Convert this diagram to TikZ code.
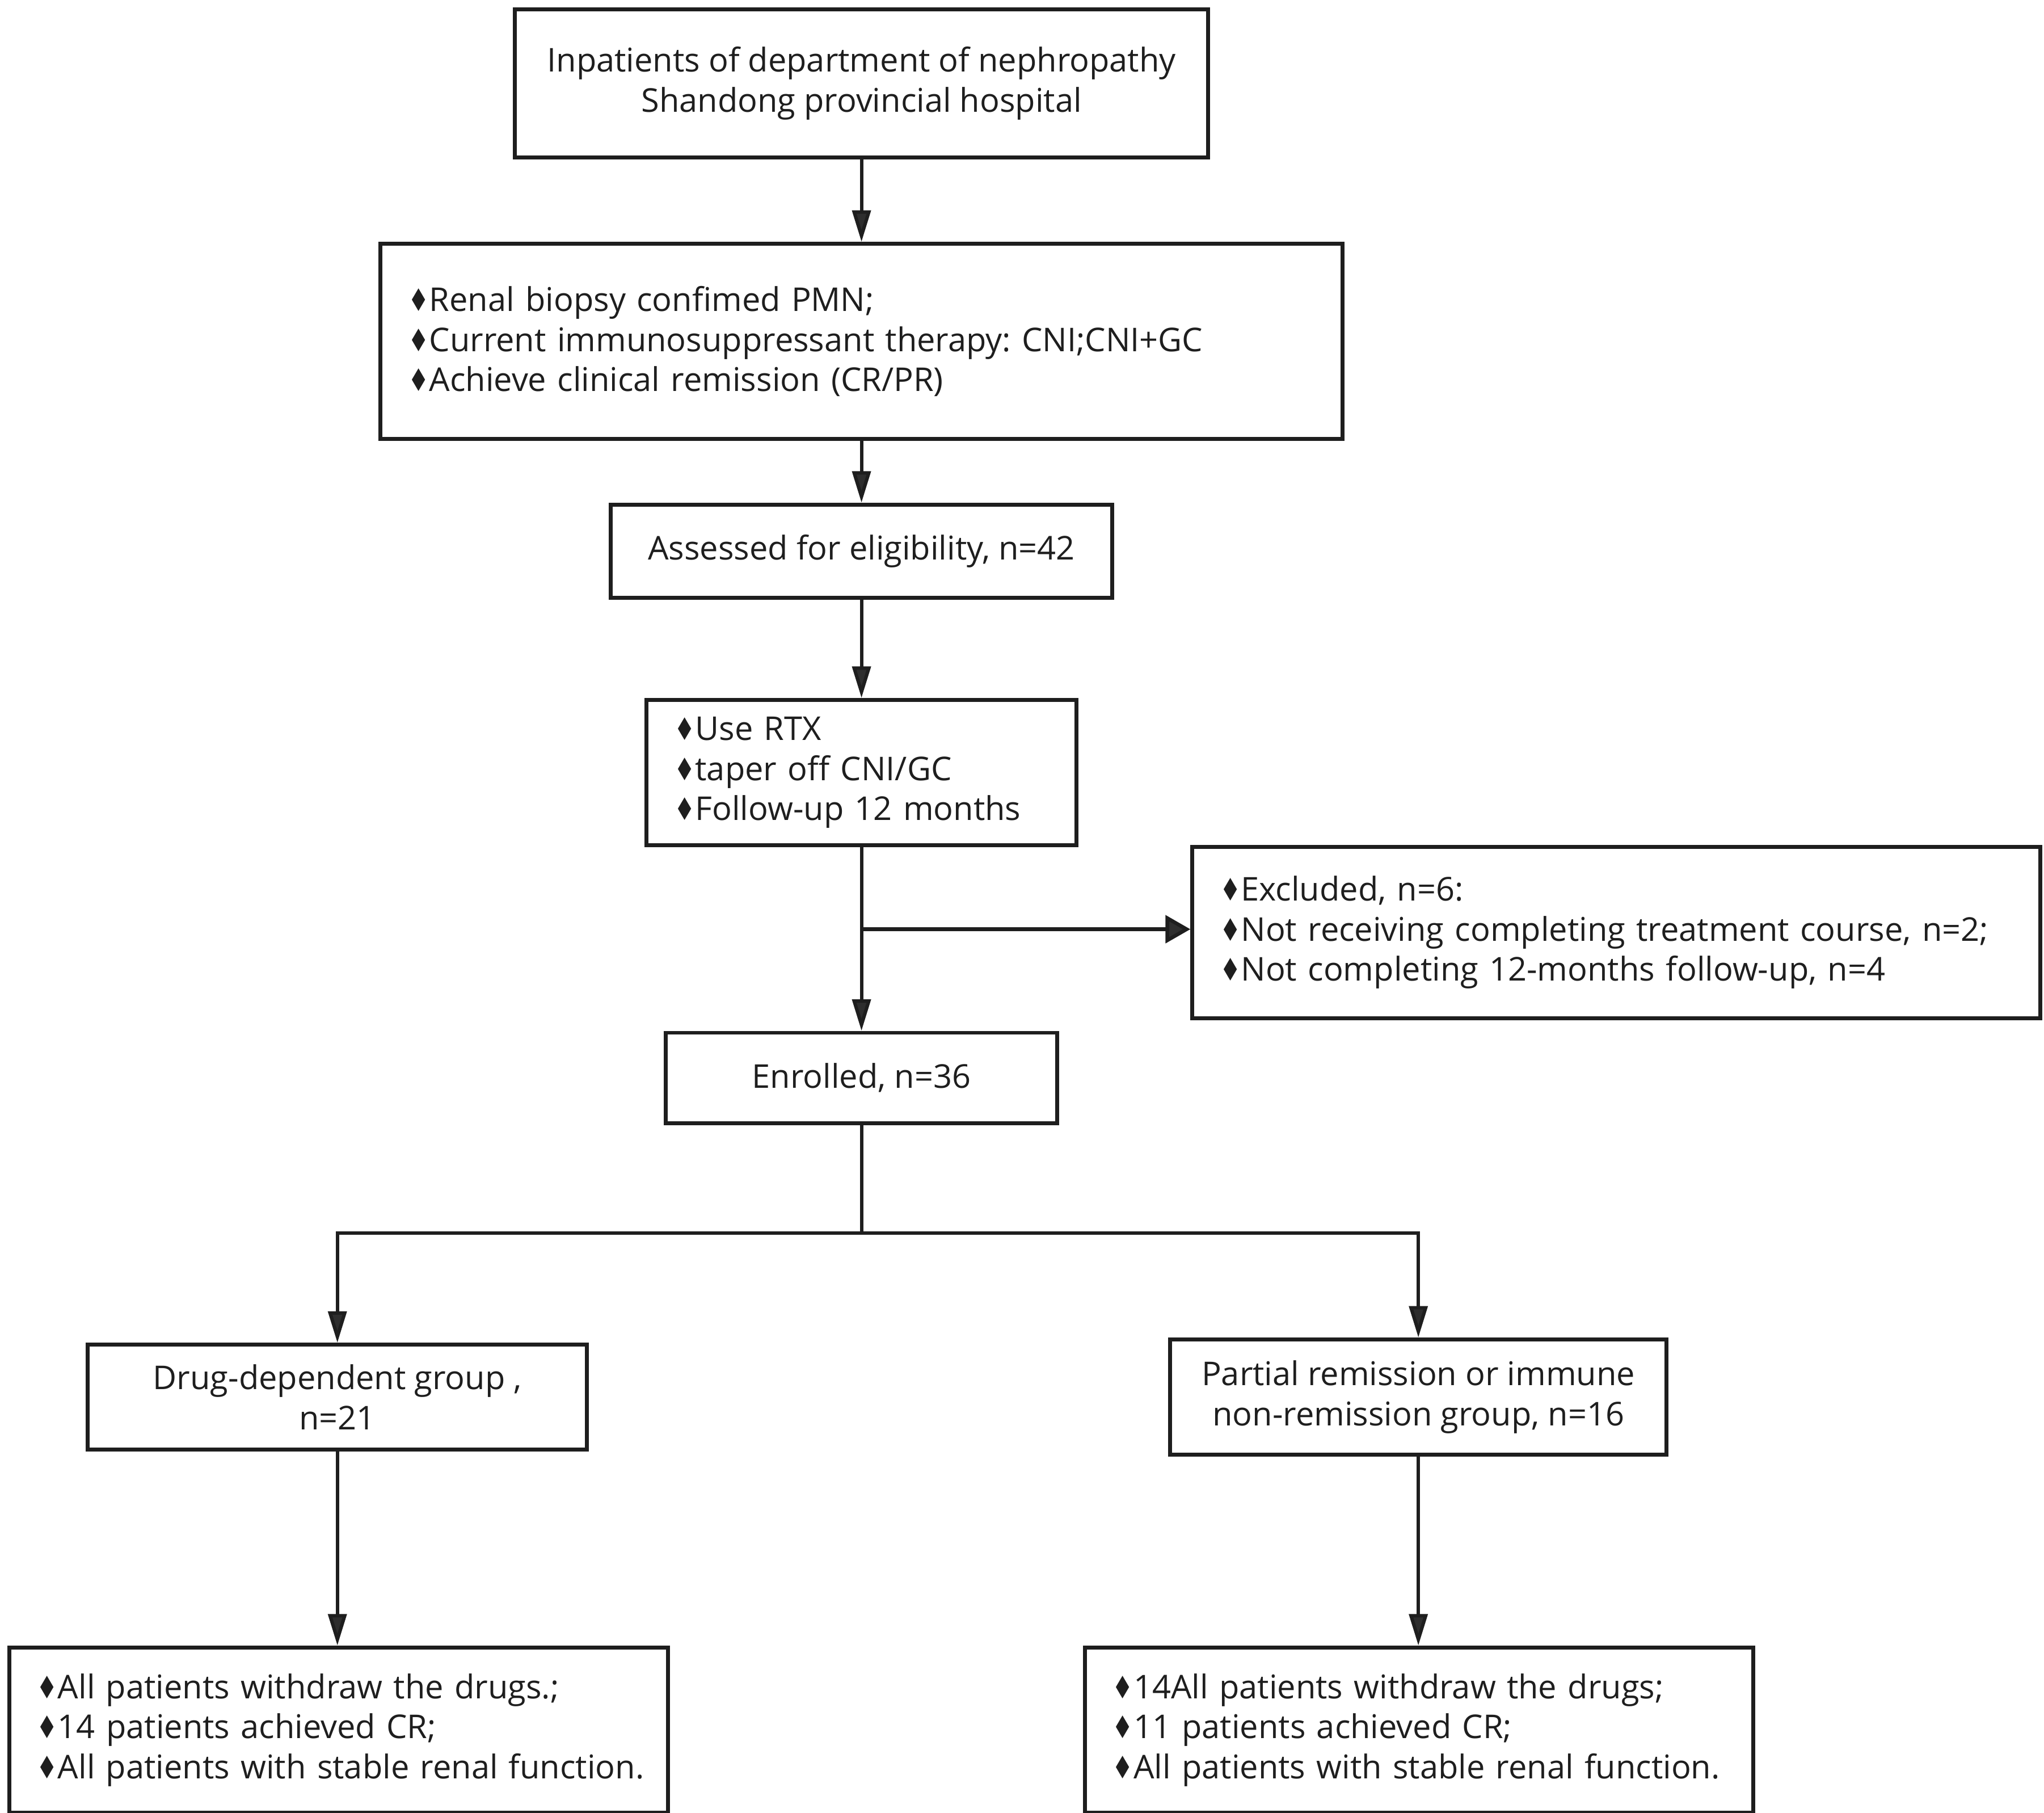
\documentclass[tikz,border=0pt]{standalone}
\usepackage{fontspec}
\setmainfont{Open Sans}
\newfontfamily\symfont{DejaVu Sans}
\usetikzlibrary{arrows.meta}
\definecolor{ink}{HTML}{1E1E1E}
\definecolor{headc}{HTML}{2E2E2E}
\newcommand{\dia}{{\symfont\scalebox{0.72}[0.95]{♦}}}
\newcommand{\fs}{\fontsize{12.5}{15.3}\selectfont\frenchspacing}
\frenchspacing
\begin{document}
\begin{tikzpicture}[x=0.5pt,y=-0.5pt,
  cbox/.style={draw=ink, line width=1.5pt, fill=white, align=center, inner sep=0pt, font=\fs, text=ink},
  lbox/.style={draw=ink, line width=1.5pt, fill=white, align=left, inner xsep=10.5pt, inner ysep=0pt, font=\fs, text=ink},
  arr/.style={draw=ink, line width=1.3pt, -{Triangle[length=12pt,width=7pt,fill=headc]}},
  harr/.style={draw=ink, line width=1.4pt, -{Triangle[length=9.5pt,width=10.5pt,fill=headc]}},
  conn/.style={draw=ink, line width=1.3pt}]
\fill[white] (0,0) rectangle (1560,1383.3);
\useasboundingbox (0,0) rectangle (1560,1383.3);

\node[cbox, minimum width=264.5pt, minimum height=56.5pt] (b1) at (657.5,63.5)
  {Inpatients of department of nephropathy\\Shandong provincial hospital};
\node[lbox, minimum height=74.5pt, text width=346pt] (b2) at (657.5,260.5)
  {\mbox{\dia Renal biopsy confimed PMN;}\\
   \mbox{\dia Current immunosuppressant therapy: CNI;CNI+GC}\\
   \mbox{\dia Achieve clinical remission (CR/PR)}};
\node[cbox, minimum width=191.5pt, minimum height=35.5pt] (b3) at (657.5,420.5)
  {Assessed for eligibility, n=42};
\node[lbox, minimum height=55.5pt, text width=143pt] (b4) at (657.5,589.5)
  {\mbox{\dia Use RTX}\\
   \mbox{\dia taper off CNI/GC}\\
   \mbox{\dia Follow-up 12 months}};
\node[lbox, minimum height=65.5pt, text width=302.5pt] (ex) at (1233.5,711.5)
  {\mbox{\dia Excluded, n=6:}\\
   \mbox{\dia Not receiving completing treatment course, n=2;}\\
   \mbox{\dia Not completing 12-months follow-up, n=4}};
\node[cbox, minimum width=149.5pt, minimum height=34.5pt] (en) at (657.5,822.5)
  {Enrolled, n=36};
\node[cbox, minimum width=190.5pt, minimum height=40pt] (dd) at (257.5,1066)
  {Drug-dependent group ,\\n=21};
\node[cbox, minimum width=189.5pt, minimum height=44pt] (pr) at (1082.5,1066)
  {Partial remission or immune\\non-remission group, n=16};
\node[lbox, minimum height=63pt, text width=230.5pt] (bl) at (258.5,1320)
  {\mbox{\dia All patients withdraw the drugs.;}\\
   \mbox{\dia 14 patients achieved CR;}\\
   \mbox{\dia All patients with stable renal function.}};
\node[lbox, minimum height=63pt, text width=234pt] (br) at (1083,1320)
  {\mbox{\dia 14All patients withdraw the drugs;}\\
   \mbox{\dia 11 patients achieved CR;}\\
   \mbox{\dia All patients with stable renal function.}};

\coordinate (j1) at (657.5,709);
\coordinate (j2) at (657.5,941);

\draw[arr] (b1.south) -- (b2.north);
\draw[arr] (b2.south) -- (b3.north);
\draw[arr] (b3.south) -- (b4.north);
\draw[arr] (b4.south) -- (en.north);
\draw[harr] (j1) -- (j1 -| ex.west);
\draw[conn] (en.south) -- (j2);
\draw[arr] (j2) -| (dd.north);
\draw[arr] (j2) -| (pr.north);
\draw[arr] (dd.south) -- (dd.south |- bl.north);
\draw[arr] (pr.south) -- (pr.south |- br.north);
\end{tikzpicture}
\end{document}
